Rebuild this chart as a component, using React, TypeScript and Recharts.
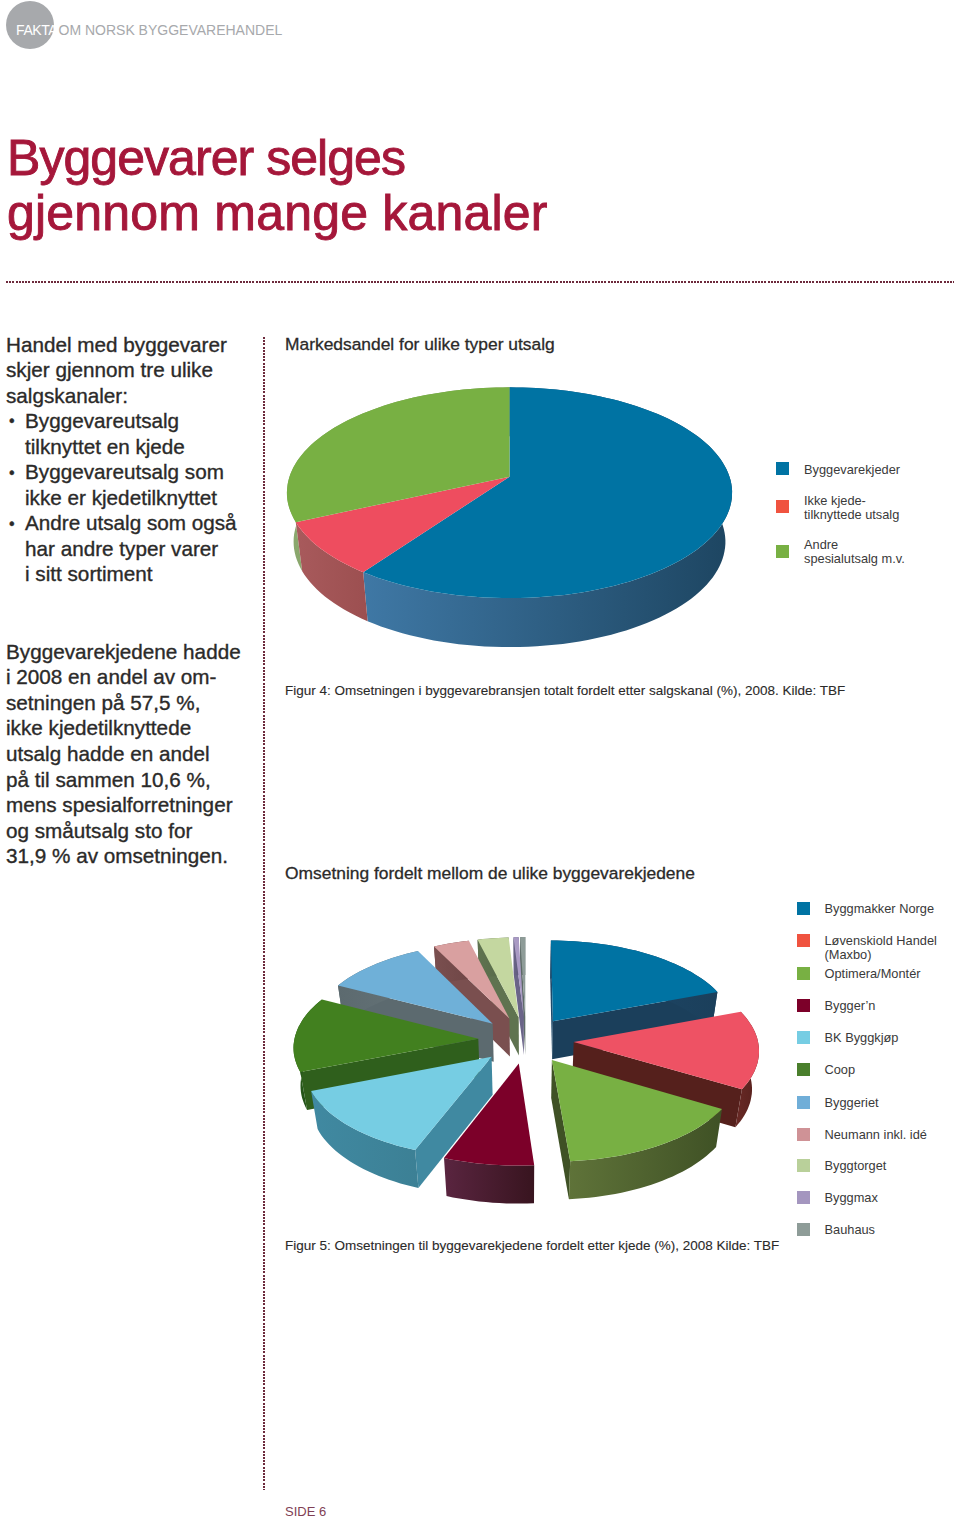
import { Pie, PieChart } from "recharts";

// Slice sizes are measured off the drawn pies (in % of the circle), so they differ a bit
// from the figures quoted in the body text (57.5 / 10.6 / 31.9).
const channelNames = ["Byggevarekjeder", "Ikke kjedetilknyttede utsalg", "Andre spesialutsalg m.v."];
const channelValues = [59.9, 8.3, 31.8];
const channelTops = ["#0073a3", "#ee4d5f", "#78b043"];
const channelWalls = [
  ["#3f78a5", "#1d4561"],
  ["#a85a5c", "#9c4f50"],
  ["#8ba86e", "#7c9a5a"],
];
const channelSwatches = ["#0073a3", "#f0533f", "#78b043"];

const chainNames = [
  "Byggmakker Norge",
  "Løvenskiold Handel (Maxbo)",
  "Optimera/Montér",
  "Bygger’n",
  "BK Byggkjøp",
  "Coop",
  "Byggeriet",
  "Neumann inkl. idé",
  "Byggtorget",
  "Byggmax",
  "Bauhaus",
];
const chainValues = [19.4, 14, 15.4, 7.2, 13.2, 13.4, 10, 3.5, 3, 0.5, 0.5];
const chainTops = [
  "#0073a3", "#ee5264", "#78b043", "#7c0029", "#76cde3", "#42801f",
  "#6fb0d8", "#d9a0a0", "#c4d7a0", "#a99ac4", "#8e9c98",
];
const chainWalls = [
  ["#1f4a6b", "#1b3f5b"],
  ["#6a2a26", "#55201c"],
  ["#5f7339", "#3f5125"],
  ["#5a2540", "#38141f"],
  ["#4089a1", "#3c8095"],
  ["#2f5f1c", "#083a10"],
  ["#5c6a6f", "#667478"],
  ["#7a4f4f", "#6f4646"],
  ["#5f7350", "#566848"],
  ["#6a6488", "#5f5a7c"],
  ["#5e6c68", "#56635f"],
];
const chainSwatches = [
  "#0073a3", "#f0533f", "#78b043", "#7c0029", "#76cde3", "#4a7f2c",
  "#70aed8", "#cf9296", "#b9d09a", "#a496bf", "#8e9c98",
];

const introLines = [
  "Handel med byggevarer", "skjer gjennom tre ulike", "salgskanaler:",
  "Byggevareutsalg", "tilknyttet en kjede", "Byggevareutsalg som",
  "ikke er kjedetilknyttet", "Andre utsalg som også", "har andre typer varer",
  "i sitt sortiment",
];
const introBullets = [3, 5, 7];
const summaryLines = [
  "Byggevarekjedene hadde", "i 2008 en andel av om-", "setningen på 57,5 %,",
  "ikke kjedetilknyttede", "utsalg hadde en andel", "på til sammen 10,6 %,",
  "mens spesialforretninger", "og småutsalg sto for", "31,9 % av omsetningen.",
];

const FONT = "'Liberation Sans', Arial, sans-serif";
const INK = "#2b2a29";
const MAROON = "#a5173a";
const DOTS = "#6d2a3c";

type Look = { radius: number; ratio: number; k: number; depth: number; explode: number; shrink: number };

// projects a point on the pie disc to the screen, with some perspective
const project = (p: any, look: Look, r: number, angle: number, low: boolean) => {
  const rad = (angle * Math.PI) / 180;
  const mid = (p.midAngle * Math.PI) / 180;
  const px = r * Math.cos(rad) + look.explode * Math.cos(mid);
  const py = r * Math.sin(rad) + look.explode * Math.sin(mid);
  const f = 1 / (1 + look.k * py);
  const s = low ? look.shrink : 1;
  return [
    p.cx + look.radius * px * f * s,
    p.cy - look.radius * look.ratio * py * f + (low ? look.depth : 0),
  ];
};

const rimAngles = (p: any) => {
  const steps = Math.max(2, Math.ceil(Math.abs(p.endAngle - p.startAngle) / 2));
  return Array.from({ length: steps + 1 }, (_, i) => p.startAngle + ((p.endAngle - p.startAngle) * i) / steps);
};

const toPath = (pts: number[][]) => "M" + pts.map((q) => q[0].toFixed(1) + " " + q[1].toFixed(1)).join("L") + "Z";

const TopShape = (look: Look, tops: string[], names: string[]) => (p: any) => {
  const pts = [project(p, look, 0, 0, false), ...rimAngles(p).map((a) => project(p, look, 1, a, false))];
  return <path d={toPath(pts)} fill={tops[names.indexOf(p.name)]} />;
};

// a cut face only shows when the slice's top lies above its edge on screen
const faceShows = (p: any, look: Look, angle: number) => {
  if (look.explode === 0) return false;
  const a = project(p, look, 0, 0, false);
  const b = project(p, look, 1, angle, false);
  const m = project(p, look, 0.5, p.midAngle, false);
  const dx = b[0] - a[0];
  const dy = b[1] - a[1];
  return ((m[1] - a[1]) * dx - dy * (m[0] - a[0])) / dx < 0;
};

const WallShape = (look: Look, walls: string[][], names: string[], only: number, key: string) => (p: any) => {
  if (p.name !== names[only]) return null;
  const id = key + only;
  const apexTop = project(p, look, 0, 0, false);
  const apexLow = project(p, look, 0, 0, true);
  const face = (a: number) => [apexTop, project(p, look, 1, a, false), project(p, look, 1, a, true), apexLow];
  const angles = rimAngles(p);
  const rim = [
    ...angles.map((a) => project(p, look, 1, a, false)),
    ...angles.slice().reverse().map((a) => project(p, look, 1, a, true)),
  ];
  return (
    <g>
      <defs>
        <linearGradient id={id} x1="0" y1="0" x2="1" y2="0">
          <stop offset="0%" stopColor={walls[only][0]} />
          <stop offset="100%" stopColor={walls[only][1]} />
        </linearGradient>
      </defs>
      {faceShows(p, look, p.startAngle) && <path d={toPath(face(p.startAngle))} fill={walls[only][0]} />}
      {faceShows(p, look, p.endAngle) && <path d={toPath(face(p.endAngle))} fill={walls[only][1]} />}
      <path d={toPath(rim)} fill={`url(#${id})`} />
    </g>
  );
};

// farthest slices first, so nearer walls are painted over them
const farToNear = (values: number[]) => {
  const total = values.reduce((a, b) => a + b, 0);
  let run = 0;
  const mids = values.map((v) => {
    const m = ((run + v / 2) / total) * 2 * Math.PI;
    run += v;
    return Math.cos(m);
  });
  return values.map((_, i) => i).sort((a, b) => mids[b] - mids[a]);
};

const Pie3D = ({ names, values, tops, walls, look, left, top, width, height, cx, cy, id }: any) => {
  const data = names.map((name: string, i: number) => ({ name, value: values[i] }));
  const pieProps = {
    data,
    dataKey: "value",
    nameKey: "name",
    cx,
    cy,
    outerRadius: look.radius,
    startAngle: 90,
    endAngle: -270,
    stroke: "none",
    isAnimationActive: false,
    legendType: "none" as const,
  };
  return (
    <div style={{ position: "absolute", left, top }}>
      <PieChart width={width} height={height} margin={{ top: 0, right: 0, bottom: 0, left: 0 }}>
        {farToNear(values).map((i) => (
          <Pie key={i} {...pieProps} shape={WallShape(look, walls, names, i, id)} />
        ))}
        <Pie {...pieProps} shape={TopShape(look, tops, names)} />
      </PieChart>
    </div>
  );
};

const Txt = ({ x, y, size, color = INK, stroke = 0, spacing = 0, children }: any) => (
  <div
    style={{
      position: "absolute",
      left: x,
      top: y - size * 0.7,
      height: size * 1.4,
      lineHeight: `${size * 1.4}px`,
      fontFamily: FONT,
      fontSize: size,
      color,
      letterSpacing: spacing,
      WebkitTextStroke: stroke ? `${stroke}px ${color}` : undefined,
      whiteSpace: "pre",
    }}
  >
    {children}
  </div>
);

const Swatch = ({ x, y, color }: any) => (
  <div style={{ position: "absolute", left: x, top: y - 6.5, width: 13, height: 13, background: color }} />
);

const channelLegend = [
  { i: 0, rows: ["Byggevarekjeder"], y: 470, mark: 468 },
  { i: 1, rows: ["Ikke kjede-", "tilknyttede utsalg"], y: 507.5, mark: 506 },
  { i: 2, rows: ["Andre", "spesialutsalg m.v."], y: 551.5, mark: 551 },
];
const chainLegendY = [908, 940, 973, 1005, 1037, 1069, 1102, 1134, 1165, 1197, 1229];

export default function App() {
  return (
    <div style={{ position: "absolute", left: 0, top: 0, width: 960, height: 1518, overflow: "hidden", background: "#fff" }}>
      <div style={{ position: "absolute", left: 6, top: 1, width: 48, height: 48, borderRadius: 24, background: "#a7a9ac" }} />
      <Txt x={16} y={31} size={14} color="#fff" spacing={-0.4}>FAKTA</Txt>
      <Txt x={58.5} y={31} size={14} color="#a7a9ac">OM NORSK BYGGEVAREHANDEL</Txt>

      <Txt x={7} y={158} size={50} color={MAROON} stroke={0.9} spacing={-0.95}>Byggevarer selges</Txt>
      <Txt x={7} y={213} size={50} color={MAROON} stroke={0.9} spacing={0.2}>gjennom mange kanaler</Txt>

      <div
        style={{
          position: "absolute", left: 6, top: 281, width: 948, height: 2,
          background: `repeating-linear-gradient(90deg, ${DOTS} 0 2px, transparent 2px 3.2px)`,
        }}
      />
      <div
        style={{
          position: "absolute", left: 263, top: 337, width: 2, height: 1153,
          background: `repeating-linear-gradient(180deg, ${DOTS} 0 2px, transparent 2px 3.2px)`,
        }}
      />

      {introLines.map((t, i) => (
        <Txt key={i} x={i < 3 ? 6 : 25} y={345 + i * 25.55} size={20.7} stroke={0.35}>{t}</Txt>
      ))}
      {introBullets.map((i) => (
        <Txt key={i} x={9} y={345 + i * 25.55} size={16} stroke={0.35}>•</Txt>
      ))}
      {summaryLines.map((t, i) => (
        <Txt key={i} x={6} y={652 + i * 25.6} size={20.7} stroke={0.35}>{t}</Txt>
      ))}

      <Txt x={285} y={344} size={17.4} stroke={0.3}>Markedsandel for ulike typer utsalg</Txt>
      <Pie3D
        id="channel"
        names={channelNames}
        values={channelValues}
        tops={channelTops}
        walls={channelWalls}
        look={{ radius: 220, ratio: 0.468, k: 0.152, depth: 49, explode: 0, shrink: 0.97 }}
        left={270}
        top={370}
        width={480}
        height={290}
        cx={239.5}
        cy={106.7}
      />
      {channelLegend.map((row) => (
        <div key={row.i}>
          <Swatch x={776} y={row.mark} color={channelSwatches[row.i]} />
          {row.rows.map((t, j) => (
            <Txt key={j} x={804} y={row.rows.length === 1 ? row.y : row.y - 6.5 + j * 13.5} size={12.8} color="#3a3a3a">{t}</Txt>
          ))}
        </div>
      ))}
      <Txt x={285} y={691} size={13.5} stroke={0.1}>Figur 4: Omsetningen i byggevarebransjen totalt fordelt etter salgskanal (%), 2008. Kilde: TBF</Txt>

      <Txt x={285} y={873} size={17.4} stroke={0.3}>Omsetning fordelt mellom de ulike byggevarekjedene</Txt>
      <Pie3D
        id="chain"
        names={chainNames}
        values={chainValues}
        tops={chainTops}
        walls={chainWalls}
        look={{ radius: 184, ratio: 0.4885, k: 0.08, depth: 38, explode: 0.26, shrink: 0.97 }}
        left={280}
        top={920}
        width={490}
        height={290}
        cx={246}
        cy={120}
      />
      {chainNames.map((name, i) => (
        <div key={name}>
          <Swatch x={797} y={chainLegendY[i]} color={chainSwatches[i]} />
          {i === 1 ? (
            <>
              <Txt x={824.5} y={941} size={12.8} color="#3a3a3a">Løvenskiold Handel</Txt>
              <Txt x={824.5} y={954.5} size={12.8} color="#3a3a3a">(Maxbo)</Txt>
            </>
          ) : (
            <Txt x={824.5} y={chainLegendY[i] + 1} size={12.8} color="#3a3a3a">{name}</Txt>
          )}
        </div>
      ))}
      <Txt x={285} y={1246} size={13.5} stroke={0.1}>Figur 5: Omsetningen til byggevarekjedene fordelt etter kjede (%), 2008 Kilde: TBF</Txt>

      <Txt x={285} y={1512.5} size={13} color="#7f3f55">SIDE 6</Txt>
    </div>
  );
}
